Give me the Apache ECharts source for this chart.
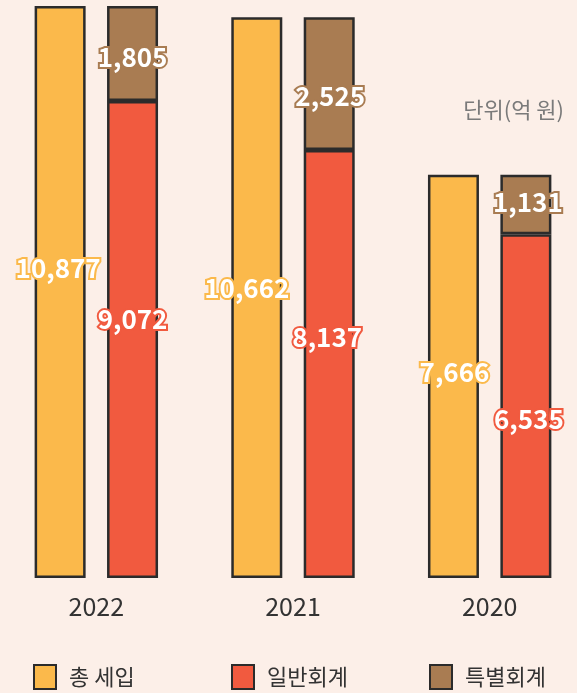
<!DOCTYPE html>
<html>
<head>
<meta charset="utf-8">
<script src="https://cdn.jsdelivr.net/npm/echarts@6/dist/echarts.min.js"></script>
<style>
  html, body { margin: 0; padding: 0; background: #fcefe8; }
  #chart { width: 577px; height: 693px; }
</style>
</head>
<body>
<div id="chart"></div>
<script>
// 연도별 세입 (단위: 억 원)
var years = ['2022', '2021', '2020'];
var totalRevenue = [10877, 10662, 7666];
var generalAccount = [9072, 8137, 6535];
var specialAccount = [1805, 2525, 1131];
var seriesNames = ['총 세입', '일반회계', '특별회계'];

// label nudges [x, y] so the numbers sit where the original has them
var totalShift = [[-2, -24], [-10, -10], [1, -4]];
var generalShift = [[0, -20], [-2, -27], [3, 13]];
var specialShift = [[0, 4], [1, 12], [2, -2]];

var colors = ['#fbb94b', '#f15a3f', '#a97c52'];
var font = '"Noto Sans CJK KR", "Noto Sans", sans-serif';

function withLabels(values, shifts) {
  return values.map(function (v, i) {
    return { value: v, label: { offset: shifts[i] } };
  });
}

function valueLabel(color) {
  return {
    show: true,
    position: 'inside',
    color: '#fff',
    fontFamily: font,
    fontWeight: 'bold',
    fontSize: 26,
    textBorderColor: color,
    textBorderWidth: 4,
    formatter: function (p) {
      return p.value.toLocaleString('en-US');
    }
  };
}

var barStyle = function (c) {
  return { color: c, borderColor: '#2b2b2b', borderWidth: 2.5 };
};

var chart = echarts.init(document.getElementById('chart'));
chart.setOption({
  backgroundColor: '#fcefe8',
  animation: false,
  title: {
    text: '단위(억 원)',
    right: 13,
    top: 99,
    padding: 0,
    textStyle: { color: '#7a7a7a', fontSize: 22, fontWeight: 'normal', fontFamily: font }
  },
  legend: [0, 1, 2].map(function (i) {
    return {
      data: [seriesNames[i]],
      left: 33 + i * 198,
      top: 664,
      padding: 0,
      itemWidth: 22,
      itemHeight: 24,
      itemGap: 0,
      icon: 'rect',
      textStyle: { color: '#333', fontSize: 22, fontFamily: font, padding: [0, 0, 0, 8] }
    };
  }),
  grid: { left: -2, width: 590, top: 6, bottom: 115, outerBoundsMode: 'none' },
  xAxis: {
    type: 'category',
    data: years,
    axisLine: { show: false },
    axisTick: { show: false },
    axisLabel: { color: '#333', fontSize: 25, fontFamily: font, margin: 16 }
  },
  yAxis: {
    type: 'value',
    min: 0,
    max: 'dataMax',
    show: false
  },
  series: [
    {
      name: seriesNames[0],
      type: 'bar',
      barWidth: 51,
      barGap: '42%',
      itemStyle: barStyle(colors[0]),
      label: valueLabel(colors[0]),
      data: withLabels(totalRevenue, totalShift)
    },
    {
      name: seriesNames[1],
      type: 'bar',
      stack: 'acc',
      barWidth: 51,
      itemStyle: barStyle(colors[1]),
      label: valueLabel(colors[1]),
      data: withLabels(generalAccount, generalShift)
    },
    {
      name: seriesNames[2],
      type: 'bar',
      stack: 'acc',
      barWidth: 51,
      itemStyle: barStyle(colors[2]),
      label: valueLabel(colors[2]),
      data: withLabels(specialAccount, specialShift)
    }
  ]
});
</script>
</body>
</html>
